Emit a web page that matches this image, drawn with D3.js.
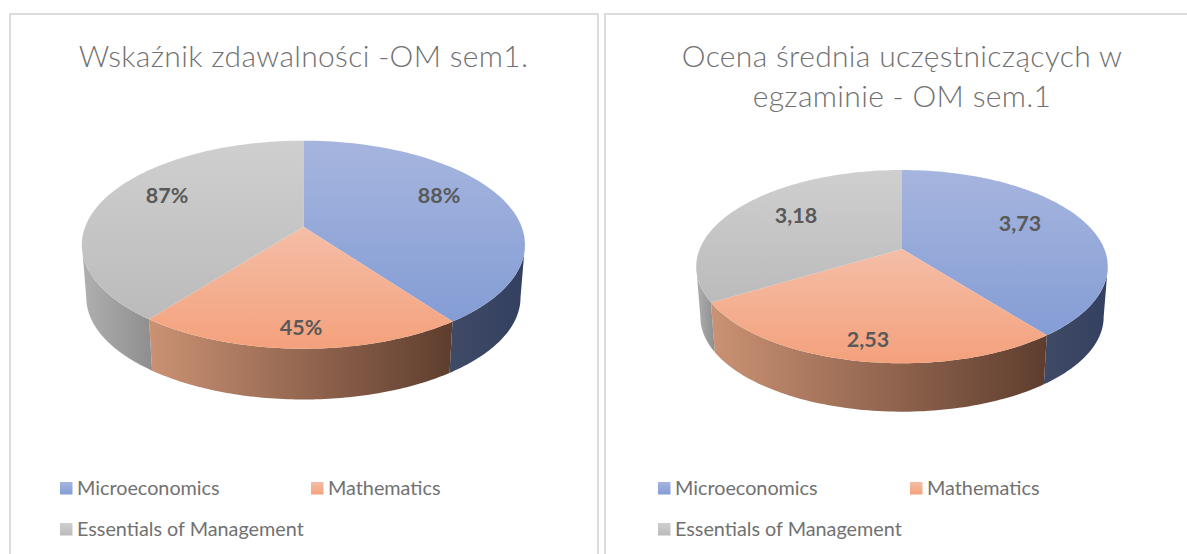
<!DOCTYPE html>
<html><head><meta charset="utf-8">
<script src="https://cdn.jsdelivr.net/npm/d3@7/dist/d3.min.js"></script>
<style>html,body{margin:0;background:#fff}svg{display:block}</style>
</head><body><svg id="c" width="1187" height="554"></svg>
<script>
const categories = ["Microeconomics", "Mathematics", "Essentials of Management"];
const passRate = [88, 45, 87];
const passLabels = ["88%", "45%", "87%"];
const avgGrade = [3.73, 2.53, 3.18];
const avgLabels = ["3,73", "2,53", "3,18"];
const title1 = ["Wskaźnik zdawalności -OM sem1."];
const title2 = ["Ocena średnia uczęstniczących w", "egzaminie - OM sem.1"];

const topColors = [["#a6b5de", "#849dd5"], ["#f4bea7", "#f4a17c"], ["#cfcfcf", "#bbbbbb"]];
const wallColors = [["#3f4a66", "#344060"], ["#cb9274", "#5e3d2e"], ["#b0b0b0", "#8e8e8e"]];
const textColor = "#717171", labelColor = "#595959", borderColor = "#dcdcdc";

const svg = d3.select("#c"), defs = svg.append("defs");
const lineGen = d3.line().curve(d3.curveLinear);

function grad(id, c, vertical) {
  const g = defs.append("linearGradient").attr("id", id)
    .attr("x1", 0).attr("y1", 0).attr("x2", vertical ? 0 : 1).attr("y2", vertical ? 1 : 0);
  g.append("stop").attr("offset", 0).attr("stop-color", c[0]);
  g.append("stop").attr("offset", 1).attr("stop-color", c[1]);
}
topColors.forEach((c, i) => grad("top" + i, c, true));
wallColors.forEach((c, i) => grad("wall" + i, c, false));

function drawPie(cfg) {
  const g = svg.append("g");
  const pie = d3.pie().sort(null).startAngle(0).endAngle(2 * Math.PI);
  const arcs = pie(cfg.values);
  const T = t => {
    const u = Math.sin(t), v = -Math.cos(t), den = 1 - cfg.k * v;
    return [cfg.cx + cfg.A * u / den, cfg.apexY + cfg.B * v / den];
  };
  const L = t => {
    const p = T(t);
    return [cfg.cx + (p[0] - cfg.cx) * cfg.s, cfg.apexY + cfg.d + (p[1] - cfg.apexY) * cfg.s];
  };
  const samples = (a, b) => d3.range(0, 81).map(i => a + (b - a) * i / 80);
  // walls run between the two silhouette tangents of the projected circle
  const wallFrom = Math.acos(-cfg.k), wallTo = 2 * Math.PI - wallFrom;
  arcs.forEach((a, i) => {
    const s = Math.max(a.startAngle, wallFrom), e = Math.min(a.endAngle, wallTo);
    if (s >= e) return;
    const ts = samples(s, e);
    g.append("path")
      .attr("d", lineGen(ts.map(T).concat(ts.slice().reverse().map(L))) + "Z")
      .attr("fill", `url(#wall${i})`);
  });
  arcs.forEach((a, i) => {
    const pts = [[cfg.cx, cfg.apexY]].concat(samples(a.startAngle, a.endAngle).map(T));
    g.append("path").attr("d", lineGen(pts) + "Z").attr("fill", `url(#top${i})`);
  });
  g.selectAll("text.l").data(cfg.labels).join("text").attr("class", "l")
    .attr("x", (d, i) => cfg.labelPos[i][0]).attr("y", (d, i) => cfg.labelPos[i][1])
    .attr("text-anchor", "middle").attr("dominant-baseline", "central")
    .attr("font-family", "Lato").attr("font-weight", 700).attr("font-size", 21.5)
    .attr("fill", labelColor).text(d => d);

  svg.append("rect").attr("x", cfg.panel[0]).attr("y", 14).attr("width", cfg.panel[1]).attr("height", 560)
    .attr("fill", "none").attr("stroke", borderColor).attr("stroke-width", 2);

  svg.selectAll(null).data(cfg.title).join("text")
    .attr("x", cfg.titleX).attr("y", (d, i) => cfg.titleY + i * 40)
    .attr("text-anchor", "middle").attr("font-family", "Lato").attr("font-weight", 300).attr("font-size", 30)
    .attr("letter-spacing", 0.33).attr("fill", textColor).text(d => d);

  categories.forEach((c, i) => {
    svg.append("rect").attr("x", cfg.legend[i][0]).attr("y", cfg.legend[i][1]).attr("width", 12.5).attr("height", 12.5)
      .attr("fill", `url(#top${i})`);
    svg.append("text").attr("x", cfg.legend[i][0] + 17).attr("y", cfg.legend[i][1] + 4.5)
      .attr("dominant-baseline", "central").attr("font-family", "Lato").attr("font-size", 19.8)
      .attr("fill", textColor).text(c);
  });
}

drawPie({ values: passRate, labels: passLabels, cx: 303.4, apexY: 226.7, A: 218.2, B: 100.9, k: 0.173, s: 0.98, d: 53.2,
  labelPos: [[439, 195], [301, 327], [167, 195]], panel: [10, 588], title: title1, titleX: 303.5, titleY: 67,
  legend: [[60, 482], [311, 482], [60, 523]] });
drawPie({ values: avgGrade, labels: avgLabels, cx: 902, apexY: 249, A: 202.3, B: 93.4, k: 0.1827, s: 0.98, d: 50.7,
  labelPos: [[1020, 223], [868, 339], [796, 215]], panel: [605, 620], title: title2, titleX: 902, titleY: 67,
  legend: [[658, 482], [910, 482], [658, 523]] });
</script></body></html>
